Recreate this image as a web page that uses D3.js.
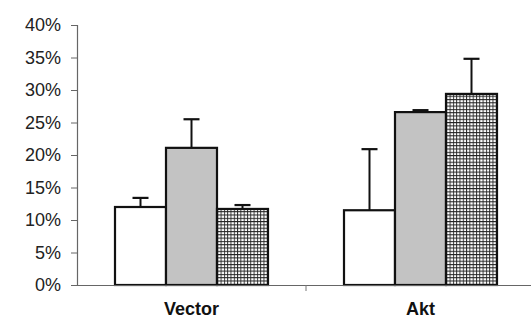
<!DOCTYPE html>
<html>
<head>
<meta charset="utf-8">
<script src="https://cdn.jsdelivr.net/npm/d3@7"></script>
<style>
  body { margin: 0; background: #fff; }
  svg { display: block; font-family: Arial, "Liberation Sans", sans-serif; }
</style>
</head>
<body>
<div id="chart-container"></div>
<script>
// data
const groups = ["Vector", "Akt"];
const series = ["open", "gray", "checked"];
const means = [
  [12.0, 21.1, 11.7],
  [11.5, 26.6, 29.4]
];
const errors = [
  [1.4, 4.4, 0.6],
  [9.4, 0.3, 5.4]
];
const yTicks = [0, 5, 10, 15, 20, 25, 30, 35, 40];

const width = 531;
const height = 325;

const svg = d3.select("#chart-container")
    .append("svg")
    .attr("width", width)
    .attr("height", height);

const defs = svg.append("defs");

// checked fill
const pat = defs.append("pattern")
    .attr("id", "grid")
    .attr("width", 3.3)
    .attr("height", 3.3)
    .attr("patternUnits", "userSpaceOnUse");
pat.append("rect").attr("width", 3.3).attr("height", 3.3).attr("fill", "#fff");
pat.append("path")
    .attr("d", "M0,0.5H3.3M0.5,0V3.3")
    .attr("stroke", "#222")
    .attr("stroke-width", 0.9);

const fills = { open: "#fff", gray: "#c3c3c3", checked: "url(#grid)" };

const x = d3.scaleBand().domain(groups).range([77, 535]);
const xs = d3.scaleBand().domain(series).range([0, 153]);
const y = d3.scaleLinear().domain([0, 40]).range([285, 25]);

// y axis
const yAxis = svg.append("g")
    .attr("transform", "translate(77,0)")
    .call(d3.axisLeft(y).tickValues(yTicks).tickFormat(d => d + "%").tickSize(6).tickPadding(10));
yAxis.select(".domain").attr("stroke", "#666").attr("stroke-width", 1.2);
yAxis.selectAll(".tick line").attr("stroke", "#666");
yAxis.selectAll("text").attr("font-size", 18).attr("fill", "#222");

// bars
const grp = svg.append("g")
    .selectAll("g")
    .data(groups)
    .join("g")
    .attr("transform", (d, i) => `translate(${x(d) + x.bandwidth() / 2 - 76.5},0)`);

grp.each(function(g, gi) {
    const sel = d3.select(this);
    series.forEach((s, si) => {
        const v = means[gi][si];
        const e = errors[gi][si];
        const cx = xs(s) + xs.bandwidth() / 2;
        sel.append("line")
            .attr("x1", cx).attr("x2", cx)
            .attr("y1", y(v)).attr("y2", y(v + e))
            .attr("stroke", "#111").attr("stroke-width", 2);
        sel.append("line")
            .attr("x1", cx - 8).attr("x2", cx + 8)
            .attr("y1", y(v + e)).attr("y2", y(v + e))
            .attr("stroke", "#111").attr("stroke-width", 2.2);
        sel.append("rect")
            .attr("x", xs(s))
            .attr("y", y(v))
            .attr("width", xs.bandwidth())
            .attr("height", y(0) - y(v))
            .attr("fill", fills[s])
            .attr("stroke", "#111")
            .attr("stroke-width", 2.2);
    });
});

// x axis
const xAxis = svg.append("g")
    .attr("transform", "translate(0,285)")
    .call(d3.axisBottom(x).tickSize(0).tickPadding(17));
xAxis.select(".domain").attr("stroke", "#666").attr("stroke-width", 1.2);
xAxis.selectAll("text").attr("font-size", 18).attr("font-weight", "bold").attr("fill", "#111");
// separator ticks between the groups
svg.append("g")
    .selectAll("line")
    .data(groups.slice(1))
    .join("line")
    .attr("x1", d => x(d)).attr("x2", d => x(d))
    .attr("y1", 285).attr("y2", 291)
    .attr("stroke", "#777");
</script>
</body>
</html>
